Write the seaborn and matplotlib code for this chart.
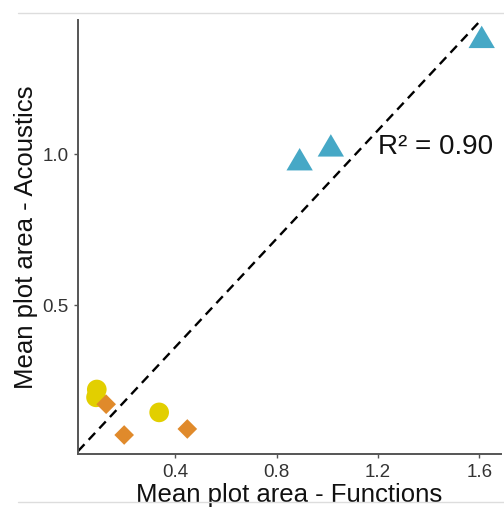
import numpy as np
import pandas as pd
import seaborn as sns
import matplotlib.pyplot as plt
from matplotlib.path import Path
from matplotlib.lines import Line2D

# values
groups = ['circle', 'circle', 'circle',
          'diamond', 'diamond', 'diamond',
          'triangle', 'triangle', 'triangle']
area_functions = [0.091, 0.088, 0.337, 0.128, 0.199, 0.448, 0.891, 1.014, 1.609]
area_acoustics = [0.220, 0.194, 0.144, 0.171, 0.069, 0.089, 0.984, 1.030, 1.390]
r2_label = 'R² = 0.90'
x_ticks = [0.4, 0.8, 1.2, 1.6]
y_ticks = [0.5, 1.0]

df = pd.DataFrame({'group': groups, 'x': area_functions, 'y': area_acoustics})

# regression through the origin
xs = np.array(area_functions)
ys = np.array(area_acoustics)
slope = (xs * ys).sum() / (xs * xs).sum()

sns.set_theme(style='white')
plt.rcParams['font.family'] = ['Liberation Sans', 'DejaVu Sans']

tri = Path([(-1, -0.85), (1, -0.85), (0, 0.85), (-1, -0.85)],
           [Path.MOVETO, Path.LINETO, Path.LINETO, Path.CLOSEPOLY])

palette = {'circle': '#E2CF00', 'diamond': '#E08A2B', 'triangle': '#46A8C6'}
markers = {'circle': 'o', 'diamond': 'D', 'triangle': tri}
sizes = {'circle': 200, 'diamond': 100, 'triangle': 360}

fig = plt.figure(figsize=(5.04, 5.09), dpi=100)
ax = fig.add_axes([0.1548, 0.1081, 0.994 - 0.1548, 0.9607 - 0.1081])

sns.scatterplot(data=df, x='x', y='y', hue='group', style='group', size='group',
                palette=palette, markers=markers, sizes=sizes,
                linewidth=0, alpha=1, legend=False, ax=ax, zorder=3)

ax.axline((0, 0), slope=slope, color='black', linestyle=(0, (4, 2.6)), linewidth=1.7, zorder=2)

ax.text(1.20, 1.025, r2_label, fontsize=20, va='center', ha='left', color='#111111')

ax.set_xlim(0.017, 1.685)
ax.set_ylim(0.006, 1.446)
ax.set_xticks(x_ticks)
ax.set_yticks(y_ticks)
ax.set_xticklabels([f'{t:.1f}' for t in x_ticks])
ax.set_yticklabels([f'{t:.1f}' for t in y_ticks])
ax.tick_params(axis='both', which='both', direction='out', length=3, width=1,
               color='#555555', labelsize=13.5, labelcolor='#333333', pad=4,
               bottom=True, left=True)

ax.set_xlabel('Mean plot area - Functions', fontsize=18.5, color='#111111', labelpad=2)
ax.set_ylabel('Mean plot area - Acoustics', fontsize=18.5, color='#111111', labelpad=3)

sns.despine(ax=ax)
for side in ['left', 'bottom']:
    ax.spines[side].set_color('#555555')
    ax.spines[side].set_linewidth(1.4)

# thin page rules above and below the plot
fig.add_artist(Line2D([18 / 504, 1], [1 - 13 / 509] * 2, color='#DDDDDD', linewidth=1))
fig.add_artist(Line2D([18 / 504, 1], [1 - 502 / 509] * 2, color='#DDDDDD', linewidth=1))

fig.savefig('out.png', dpi=100)
